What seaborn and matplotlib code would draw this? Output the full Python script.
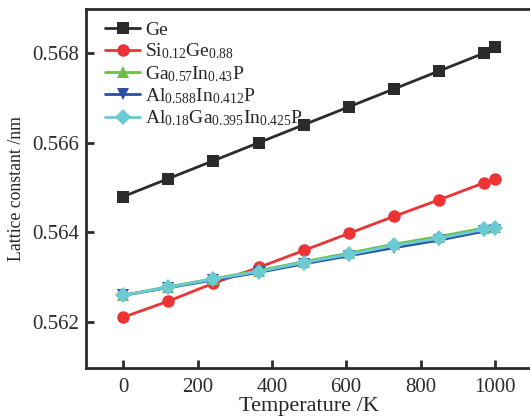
import numpy as np
import pandas as pd
import seaborn as sns
import matplotlib.pyplot as plt

temperature = [0, 121.5, 243, 364.5, 486, 607.5, 729, 850.5, 972, 1000]
ge = [0.5648, 0.5652, 0.5656, 0.5660, 0.56640, 0.5668, 0.5672, 0.5676, 0.5680, 0.56813]
si_ge = [0.56211, 0.56247, 0.56287, 0.56322, 0.56360, 0.56398, 0.56436, 0.56473, 0.56511, 0.56520]
ga_in_p = [0.56260, 0.56279, 0.56297, 0.56315, 0.56335, 0.56354, 0.56374, 0.56391, 0.56410, 0.56413]
al_in_p = [0.56260, 0.56277, 0.56294, 0.56311, 0.56330, 0.56348, 0.56366, 0.56383, 0.56403, 0.56406]
al_ga_in_p = [0.56260, 0.56278, 0.56296, 0.56313, 0.56333, 0.56351, 0.56371, 0.56387, 0.56407, 0.56409]

labels = ['Ge', 'Si$_{0.12}$Ge$_{0.88}$', 'Ga$_{0.57}$In$_{0.43}$P',
          'Al$_{0.588}$In$_{0.412}$P', 'Al$_{0.18}$Ga$_{0.395}$In$_{0.425}$P']
series = [ge, si_ge, ga_in_p, al_in_p, al_ga_in_p]
colors = ['#2b2b2b', '#ec3336', '#6dbf45', '#2a4fa8', '#6ccad2']
markers = ['s', 'o', '^', 'v', 'D']
msizes = [8, 9, 8, 8, 8]

sns.set_style('white')
plt.rcParams['font.family'] = ['Liberation Serif', 'DejaVu Serif']
plt.rcParams['mathtext.default'] = 'regular'

df = pd.DataFrame({
    'T': np.tile(temperature, len(series)),
    'a': np.concatenate(series),
    'mat': np.repeat(labels, len(temperature)),
})

fig = plt.figure(figsize=(5.3, 4.17), dpi=100)
ax = fig.add_axes([86 / 530, 49 / 417, 446 / 530, 359 / 417])

for lab, col, mk, ms in zip(labels, colors, markers, msizes):
    sub = df[df['mat'] == lab]
    sns.lineplot(data=sub, x='T', y='a', ax=ax, color=col, marker=mk,
                 markersize=ms, markeredgewidth=0, linewidth=2, label=lab)

ax.set_xlim(-100, 1100)
ax.set_ylim(0.56098, 0.56898)
ax.set_xticks([0, 200, 400, 600, 800, 1000])
ax.set_yticks([0.562, 0.564, 0.566, 0.568])
ax.set_yticklabels(['0.562', '0.564', '0.566', '0.568'])

ax.set_xlabel('Temperature /K', fontsize=16, labelpad=0)
ax.set_ylabel('Lattice constant /nm', fontsize=12.8, labelpad=5)
ax.tick_params(direction='in', length=6, width=2, labelsize=15, colors='#2b2b2b',
               labelcolor='#2b2b2b', bottom=True, left=True)
ax.tick_params(axis='x', pad=7)
ax.tick_params(axis='y', pad=5)
for side in ['left', 'bottom', 'top', 'right']:
    ax.spines[side].set_linewidth(2)
    ax.spines[side].set_color('#2b2b2b')

leg = ax.legend(loc='upper left', bbox_to_anchor=(0.015, 1.0), frameon=False,
                fontsize=14, handlelength=1.8, handletextpad=0.25,
                labelspacing=0.13, borderaxespad=0.25)

fig.savefig('out.png', dpi=100)
